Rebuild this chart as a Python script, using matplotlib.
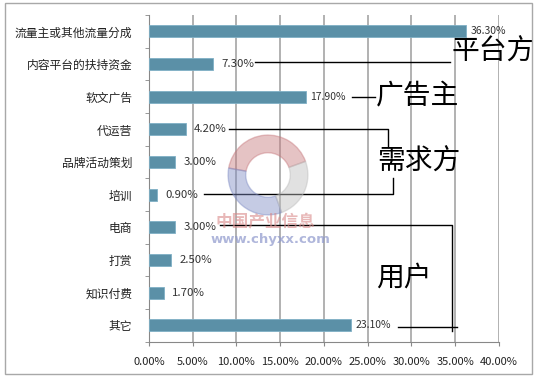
import matplotlib
matplotlib.use("Agg")
import matplotlib.pyplot as plt
from matplotlib.patches import Wedge, Rectangle
import numpy as np

plt.rcParams['font.family'] = ['Noto Sans CJK SC', 'DejaVu Sans']

categories = ["流量主或其他流量分成", "内容平台的扶持资金", "软文广告", "代运营", "品牌活动策划",
              "培训", "电商", "打赏", "知识付费", "其它"]
values = [36.3, 7.3, 17.9, 4.2, 3.0, 0.9, 3.0, 2.5, 1.7, 23.1]
x_ticks = [0, 5, 10, 15, 20, 25, 30, 35, 40]

bar_color = "#5b90a7"
grid_color = "#ababab"

fig = plt.figure(figsize=(5.34, 3.77), dpi=100)
ax = fig.add_axes([0.279, 0.094, 0.655, 0.866])

y = np.arange(len(categories))
ax.barh(y, values, height=0.37, color=bar_color, edgecolor="#7fb0c6", linewidth=0.6, zorder=3)

ax.set_xlim(0, 40)
ax.set_ylim(len(categories) - 0.5, -0.5)
ax.set_xticks(x_ticks)
ax.set_xticklabels([f"{t:.2f}%" for t in x_ticks], fontsize=8, color="#222222")
ax.set_yticks(y)
ax.set_yticklabels(categories, fontsize=8.5, color="#222222")
ax.set_yticks(np.arange(len(categories) + 1) - 0.5, minor=True)
ax.tick_params(axis="y", which="major", length=0, pad=12)
ax.tick_params(axis="y", which="minor", length=3, color="#888888", direction="out")
ax.tick_params(axis="x", length=3, color="#888888", pad=8)
ax.xaxis.grid(True, color=grid_color, linewidth=1.3, zorder=0)
ax.set_axisbelow(True)
for s in ["top", "right"]:
    ax.spines[s].set_visible(False)
for s in ["left", "bottom"]:
    ax.spines[s].set_color("#888888")

for i, v in enumerate(values):
    big = v > 15
    ax.annotate(f"{v:.2f}%", (v, i), xytext=(3 if big else 6, 0), textcoords="offset points",
                va="center", ha="left", fontsize=7.5 if big else 8.2, color="#333333", zorder=5)

# group brackets
lk = dict(color="black", linewidth=1.0, zorder=6, clip_on=False)
ax.plot([12.1, 34.4], [0.93, 0.93], **lk)
ax.text(34.6, 0.62, "平台方", fontsize=20, va="center", ha="left", clip_on=False)

ax.plot([23.2, 25.9], [2, 2], **lk)
ax.text(26.0, 1.98, "广告主", fontsize=20, va="center", ha="left")

ax.plot([9.2, 27.3, 27.3], [3.0, 3.0, 3.53], **lk)
ax.text(30.9, 4.0, "需求方", fontsize=20, va="center", ha="center")
ax.plot([27.9, 27.9, 6.3], [4.48, 4.97, 4.97], **lk)

ax.plot([8.1, 34.7, 34.7], [5.93, 5.93, 9.19], **lk)
ax.plot([28.5, 35.2], [9.04, 9.04], **lk)
ax.text(29.1, 7.55, "用户", fontsize=20, va="center", ha="center")

# watermark
wm = fig.add_axes([(268 - 42) / 534, (377 - 175 - 42) / 377, 84 / 534, 84 / 377])
wm.set_xlim(-1, 1)
wm.set_ylim(-1, 1)
wm.set_aspect("equal")
wm.axis("off")
wm.add_patch(Wedge((0, 0), 0.95, 20, 170, width=0.42, color="#c77a7e", alpha=0.45))
wm.add_patch(Wedge((0, 0), 0.95, 170, 290, width=0.42, color="#7f8cc4", alpha=0.45))
wm.add_patch(Wedge((0, 0), 0.95, 290, 380, width=0.42, color="#bdbdbd", alpha=0.45))
fig.text(265 / 534, 1 - 221 / 377, "中国产业信息", fontsize=12, fontweight="bold",
         color="#d98a8a", alpha=0.6, ha="center", va="center")
fig.text(270 / 534, 1 - 239 / 377, "www.chyxx.com", fontsize=9.5, fontweight="bold",
         color="#8e98cc", alpha=0.7, ha="center", va="center", family="DejaVu Sans")

fig.patches.append(Rectangle((5 / 534, 3 / 377), 527 / 534, 371 / 377, transform=fig.transFigure,
                             fill=False, edgecolor="#a8a8a8", linewidth=1.0))

fig.savefig("out.png", dpi=100)
